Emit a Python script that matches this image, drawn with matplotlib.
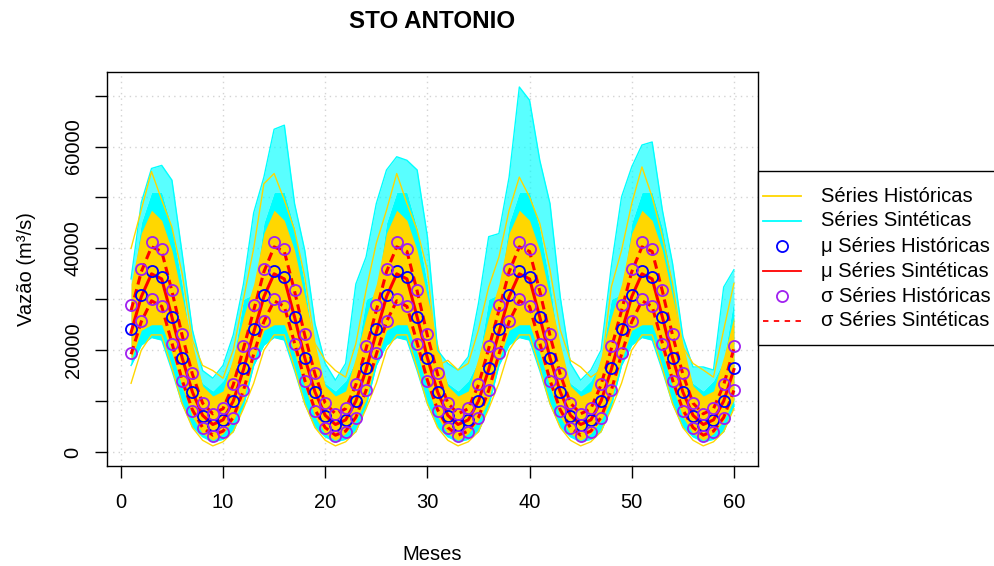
import numpy as np
import matplotlib
matplotlib.use("Agg")
import matplotlib.pyplot as plt
from matplotlib.lines import Line2D
from matplotlib.patches import Rectangle

plt.rcParams['font.family'] = ['Liberation Sans', 'DejaVu Sans']

# monthly statistics (12 months, repeated over 5 years)
mu_hist = [24100, 30840, 35620, 34320, 26460, 18530, 11730, 7140, 5300, 6290, 10080, 16440]
sd_hist = [4680, 5170, 5560, 5630, 5330, 4650, 3700, 2520, 2230, 2300, 3370, 4300]
mu_syn = [23500, 30500, 35000, 34000, 26500, 18500, 11800, 7200, 5400, 6300, 10000, 16200]
sd_syn = [4300, 4900, 5300, 5400, 5100, 4400, 3500, 2400, 2100, 2200, 3200, 4100]

# dense bands of the series (per month of the year)
cyan_lo = [17000, 21000, 22500, 22000, 16000, 9500, 5000, 3000, 2000, 2500, 4000, 9000]
cyan_hi = [31000, 45000, 51000, 51000, 44000, 33000, 19000, 13500, 12000, 14000, 18000, 30000]
gold_lo = [18000, 23900, 25000, 25000, 19400, 12800, 6900, 3600, 2300, 3600, 6200, 10200]
gold_hi = [33000, 43000, 47500, 45500, 39600, 30500, 21300, 13000, 11000, 12000, 18700, 26500]
gold_min = [13500, 20000, 23000, 23000, 16500, 9500, 4800, 2300, 1200, 2000, 4000, 8500]

# upper extremes of the series over the 60 months
cyan_max = [34000, 49000, 55700, 56300, 53400, 39000, 24000, 16000, 14500, 17000, 23000, 33000,
            47000, 54000, 63400, 64200, 48800, 39600, 25200, 17400, 14100, 17400, 33000, 38300,
            48800, 55400, 58000, 57300, 55400, 42300, 20000, 17400, 16100, 18700, 29200, 42300,
            42900, 54000, 71700, 69100, 57300, 48800, 30500, 17400, 14100, 16100, 20000, 36400,
            50100, 56000, 60300, 60900, 47500, 37000, 22700, 16700, 16700, 16100, 32400, 35800]
gold_max = [40000, 47600, 55100, 49500, 44200, 35000, 22000, 17000, 16000, 14500, 20000, 30000,
            40000, 52700, 54700, 49500, 43600, 34400, 21300, 18000, 16000, 14700, 21300, 31800,
            41000, 47500, 54700, 48800, 43600, 35800, 17000, 18000, 16100, 17400, 24000, 32400,
            38300, 47500, 54000, 50100, 44900, 35800, 24000, 18000, 16700, 14700, 16100, 32400,
            39600, 48800, 56000, 50100, 42300, 33100, 20600, 17400, 16100, 14700, 24000, 33100]

n_years = 5
meses = np.arange(1, 12 * n_years + 1)
rep = lambda a: np.tile(np.array(a, dtype=float), n_years)

GOLD = '#FFD700'
CYAN = '#00FFFF'
PURPLE = '#A020F0'

fig = plt.figure(figsize=(9.94, 5.66), dpi=100)
ax = fig.add_axes([0.1076, 0.1767, 0.655, 0.6961])

# synthetic series
ax.fill_between(meses, rep(cyan_hi), cyan_max, color=CYAN, alpha=0.65, lw=0)
ax.fill_between(meses, rep(cyan_lo), rep(cyan_hi), color=CYAN, lw=0)
ax.plot(meses, cyan_max, color=CYAN, lw=1)
ax.plot(meses, rep(cyan_lo), color=CYAN, lw=1)

# historical series
ax.fill_between(meses, rep(gold_lo), rep(gold_hi), color=GOLD, lw=0)
ax.plot(meses, gold_max, color=GOLD, lw=1)
ax.plot(meses, rep(gold_min), color=GOLD, lw=1)

# statistics
mu_s = rep(mu_syn)
sd_s = rep(sd_syn)
ax.plot(meses, mu_s, color='red', lw=2.2)
ax.plot(meses, mu_s + sd_s, color='red', lw=2.2, ls=(0, (2.8, 1.6)))
ax.plot(meses, mu_s - sd_s, color='red', lw=2.2, ls=(0, (2.8, 1.6)))

mu_h = rep(mu_hist)
sd_h = rep(sd_hist)
ax.plot(meses, mu_h, 'o', ms=8, mfc='none', mec='blue', mew=1.3)
ax.plot(meses, mu_h + sd_h, 'o', ms=8, mfc='none', mec=PURPLE, mew=1.3)
ax.plot(meses, mu_h - sd_h, 'o', ms=8, mfc='none', mec=PURPLE, mew=1.3)

ax.set_xlim(1 - 0.04 * 59, 60 + 0.04 * 59)
ax.set_ylim(-2750, 74650)
ax.set_xticks(range(0, 61, 10))
yt = list(range(0, 70001, 10000))
ax.set_yticks(yt)
ax.set_yticklabels([str(v) if v % 20000 == 0 else '' for v in yt], rotation=90, va='center')
ax.grid(True, color='#D3D3D3', ls=(0, (1, 3)), lw=1)
ax.set_axisbelow(True)
ax.tick_params(axis='both', labelsize=14.5, length=8.5, width=1)
ax.tick_params(axis='x', pad=11)
ax.tick_params(axis='y', pad=9)
for s in ax.spines.values():
    s.set_linewidth(1)
ax.set_xlabel('Meses', fontsize=14.5, labelpad=24)
ax.set_ylabel('Vazão (m³/s)', fontsize=14.5, labelpad=20)
fig.text(0.4346, 1 - 21 / 566, 'STO ANTONIO', ha='center', va='center',
         fontsize=17.4, fontweight='bold')

# legend, drawn by hand (box runs past the right edge)
W, H = 994.0, 566.0
fig.patches.append(Rectangle((758 / W, 1 - 345 / H), 300 / W, 174 / H, transform=fig.transFigure,
                             fill=True, fc='white', ec='black', lw=1, zorder=5))
labels = ['Séries Históricas', 'Séries Sintéticas', 'μ Séries Históricas',
          'μ Séries Sintéticas', 'σ Séries Históricas', 'σ Séries Sintéticas']
for i, lab in enumerate(labels):
    y = 1 - (196 + 25 * i) / H
    x0, x1 = 763 / W, 801 / W
    if i == 0:
        h = Line2D([x0, x1], [y, y], color=GOLD, lw=1.3)
    elif i == 1:
        h = Line2D([x0, x1], [y, y], color=CYAN, lw=1.3)
    elif i == 2:
        h = Line2D([782 / W], [y], marker='o', ms=8, mfc='none', mec='blue', mew=1.3, ls='none')
    elif i == 3:
        h = Line2D([x0, x1], [y, y], color='red', lw=1.3)
    elif i == 4:
        h = Line2D([782 / W], [y], marker='o', ms=8, mfc='none', mec=PURPLE, mew=1.3, ls='none')
    else:
        h = Line2D([x0, x1], [y, y], color='red', lw=1.3, ls=(0, (3, 3)))
    h.set_transform(fig.transFigure)
    h.set_zorder(6)
    fig.lines.append(h)
    fig.text(821 / W, y, lab, ha='left', va='center', fontsize=14.5, zorder=6)

fig.savefig('out.png', dpi=100)
